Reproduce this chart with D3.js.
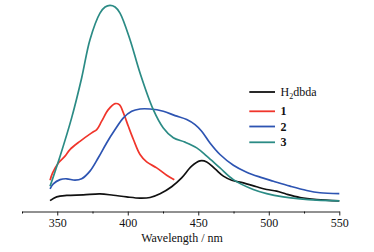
<!DOCTYPE html>
<html>
<head>
<meta charset="utf-8">
<script src="https://cdn.jsdelivr.net/npm/d3@7/dist/d3.min.js"></script>
<style>
  body { margin: 0; background: #fff; }
  text { font-family: "Liberation Serif", "Times New Roman", serif; }
</style>
</head>
<body>
<div id="chart"></div>
<script>
// emission spectra, intensity in arbitrary units (0-100)
const wlBlack = [344.9, 349.6, 356.7, 368.5, 380.3, 389.8, 399.2, 408.7, 415.8, 422.9, 431.1, 438.2, 445.3, 451.2, 456, 461.9, 467.8, 473.7, 482, 491.4, 498.5, 505.6, 512.7, 522.2, 534, 550];
const inBlack = [5.3, 7.1, 7.8, 8.1, 8.6, 7.9, 7.1, 6.5, 6.8, 8.6, 12, 16.3, 22, 24.6, 24.1, 20.7, 17.2, 15.2, 13.9, 12, 10.7, 9.9, 8.4, 6.8, 5.8, 5.2];

const wlRed = [344.9, 346.7, 350.8, 355.5, 359, 366.1, 374.4, 378, 381.5, 386.2, 391, 394, 396.9, 400.4, 404, 408.7, 413.4, 420.5, 427.6, 433];
const inRed = [15.2, 18.8, 23.6, 26.9, 30.1, 34.1, 38.2, 39.8, 43.9, 49.5, 52.4, 51.9, 47.9, 41.4, 35, 27.7, 24.1, 21.2, 17.6, 15.4];

const wlBlue = [344.9, 347.2, 352, 356.7, 362.6, 367.3, 373.2, 379.1, 385, 391, 396.9, 402.8, 408.7, 415.8, 425.2, 433.5, 441.8, 447.7, 452.4, 458.3, 465.4, 474.9, 484.3, 493.8, 503.3, 515.1, 526.9, 536.3, 550];
const inBlue = [11, 13.4, 15.5, 15.9, 15.2, 15.9, 19.6, 26.1, 33.3, 39.8, 45.5, 48.7, 49.8, 49.8, 48.7, 46.6, 44.7, 42.2, 39, 33.3, 27.7, 22.5, 19.1, 16.7, 14.7, 12.3, 10.2, 9.1, 8.7];

const wlTeal = [344.9, 352, 360.2, 367.3, 373.2, 380.3, 383.9, 387.4, 391, 394.5, 401.6, 408.7, 418.1, 425.2, 432.3, 440.6, 448.9, 456, 465.4, 474.9, 489, 498.5, 510.3, 522.2, 534, 550];
const inTeal = [12.3, 26.9, 45.5, 64.9, 83.5, 96.4, 99.4, 100.2, 99.4, 96.4, 83.5, 67.3, 49.5, 40.6, 35.8, 33.7, 30.9, 26.9, 21.2, 15.5, 10.7, 8.7, 7.1, 6.1, 5.5, 5.2];

const seriesNames = ["H2dbda", "1", "2", "3"];
const seriesColors = ["#111111", "#f0352b", "#2d54b2", "#2b8b85"];
const majorTicks = [350, 400, 450, 500, 550];
const minorTicks = [325, 375, 425, 475, 525];

const series = [
  { name: seriesNames[0], color: seriesColors[0], x: wlBlack, y: inBlack },
  { name: seriesNames[1], color: seriesColors[1], x: wlRed, y: inRed },
  { name: seriesNames[2], color: seriesColors[2], x: wlBlue, y: inBlue },
  { name: seriesNames[3], color: seriesColors[3], x: wlTeal, y: inTeal }
];

const W = 374, H = 252;
const svg = d3.select("#chart").append("svg")
  .attr("width", W)
  .attr("height", H);

const x = d3.scaleLinear().domain([325, 550]).range([22, 339.3]);
const y = d3.scaleLinear().domain([0, 100]).range([211.5, 5.7]);

// minor ticks, no labels
svg.append("g")
  .attr("transform", "translate(0,211.5)")
  .call(d3.axisBottom(x).tickValues(minorTicks).tickSize(2).tickFormat(""))
  .call(g => g.select(".domain").remove());

// main axis
const xAxis = svg.append("g")
  .attr("transform", "translate(0,211.5)")
  .call(d3.axisBottom(x).tickValues(majorTicks).tickSize(4).tickSizeOuter(0).tickPadding(3));
xAxis.selectAll("text")
  .style("font-family", "'Liberation Serif', serif")
  .style("font-size", "12px")
  .attr("fill", "#111");
xAxis.selectAll("line, path").attr("stroke", "#222");

svg.append("text")
  .attr("x", 182)
  .attr("y", 241.5)
  .attr("text-anchor", "middle")
  .style("font-size", "12px")
  .attr("fill", "#111")
  .text("Wavelength / nm");

const line = d3.line()
  .x(d => x(d[0]))
  .y(d => y(d[1]))
  .curve(d3.curveCatmullRom.alpha(0.5));

series.forEach(s => {
  svg.append("path")
    .datum(s.x.map((v, i) => [v, s.y[i]]))
    .attr("fill", "none")
    .attr("stroke", s.color)
    .attr("stroke-width", 1.7)
    .attr("stroke-linejoin", "round")
    .attr("d", line);
});

// legend
const legendY = [92, 111.3, 126.5, 142.3];
const legend = svg.append("g");
series.forEach((s, i) => {
  legend.append("line")
    .attr("x1", 249.3).attr("x2", 275)
    .attr("y1", legendY[i]).attr("y2", legendY[i])
    .attr("stroke", s.color)
    .attr("stroke-width", 1.8);
  const t = legend.append("text")
    .attr("x", 280.5)
    .attr("y", legendY[i] + 4)
    .style("font-size", "12px")
    .attr("fill", "#111");
  if (i === 0) {
    t.append("tspan").text("H");
    t.append("tspan").attr("dy", 3).style("font-size", "8px").text("2");
    t.append("tspan").attr("dy", -3).text("dbda");
  } else {
    t.style("font-weight", "bold").text(s.name);
  }
});
</script>
</body>
</html>
